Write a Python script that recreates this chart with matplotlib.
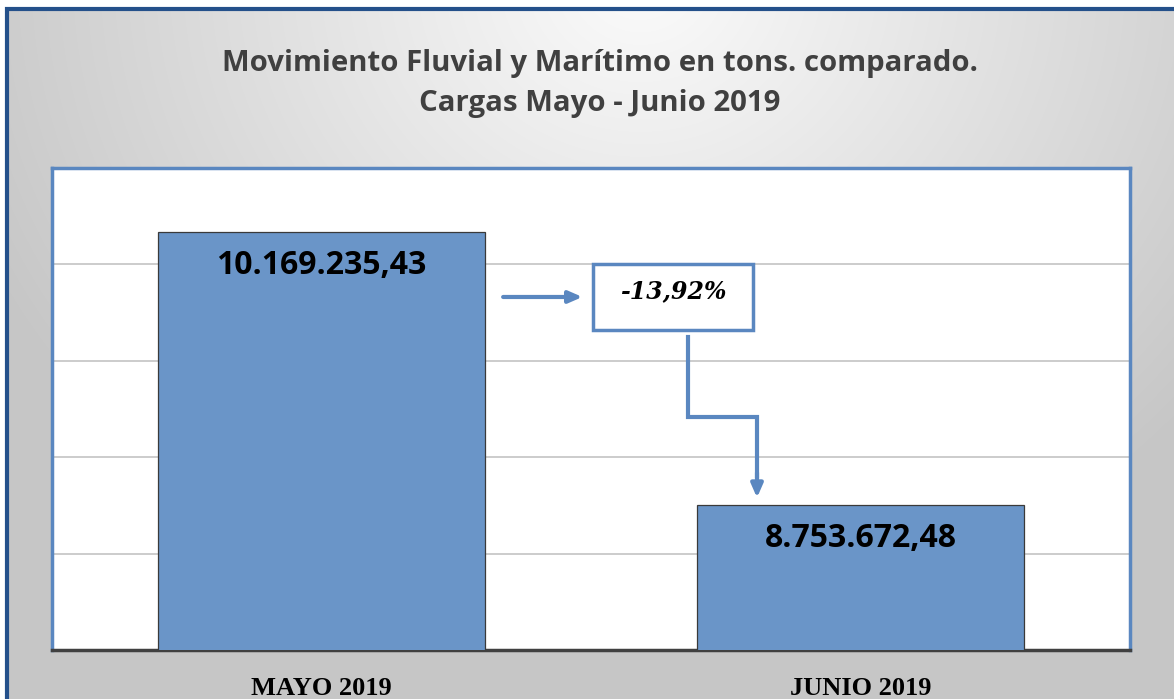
import numpy as np
import matplotlib
matplotlib.use("Agg")
import matplotlib.pyplot as plt
from matplotlib.patches import Rectangle

# data
categories = ["MAYO 2019", "JUNIO 2019"]
values = [10169235.43, 8753672.48]
value_labels = ["10.169.235,43", "8.753.672,48"]
change_label = "-13,92%"
title_lines = ["Movimiento Fluvial y Marítimo en tons. comparado.",
               "Cargas Mayo - Junio 2019"]

W, H = 1174, 699
fig = plt.figure(figsize=(W / 100, H / 100), dpi=100)
fig.patch.set_facecolor("white")

# gray radial background
bg = fig.add_axes([0, 0, 1, 1], zorder=0)
yy, xx = np.mgrid[0:H, 0:W]
d = np.sqrt(((xx - 640) / 720.0) ** 2 + ((yy + 20) / 650.0) ** 2)
d = np.clip(d, 0, 1)
shade = 0.985 - 0.205 * d
img = np.dstack([shade, shade, shade])
img[:8, :, :] = 1.0
img[:, :5, :] = 1.0
bg.imshow(img, extent=[0, W, H, 0], aspect="auto", interpolation="bilinear")
bg.set_xlim(0, W)
bg.set_ylim(H, 0)
bg.axis("off")
bg.plot([6.5, 6.5, W + 5], [H + 5, 8.5, 8.5], color="#24508a", lw=3,
        solid_joinstyle="miter")

# titles
fig.text(600 / W, 1 - 64 / H, title_lines[0], ha="center", va="center",
         fontsize=21.2, fontweight="bold", color="#404040", family="Open Sans")
fig.text(600 / W, 1 - 104 / H, title_lines[1], ha="center", va="center",
         fontsize=21.2, fontweight="bold", color="#404040", family="Open Sans")

# main axes
ax = fig.add_axes([52 / W, 1 - 650 / H, 1078 / W, 482 / H], zorder=2)
ax.set_facecolor("white")
x = np.arange(len(categories))
bars = ax.bar(x, values, width=0.605, color="#6a95c8", edgecolor="#3a3a3a",
              linewidth=0.9, zorder=3)
ax.set_xlim(-0.5, 1.5)
ax.set_ylim(8000000, 10500000)
ax.set_yticks([8500000, 9000000, 9500000, 10000000])
ax.grid(axis="y", color="#c4c4c4", lw=1.2, zorder=1)
ax.tick_params(left=False, labelleft=False, bottom=False, labelbottom=False)
for side in ["left", "right", "top"]:
    ax.spines[side].set_color("#5a87c0")
    ax.spines[side].set_linewidth(2.5)
ax.spines["bottom"].set_color("#404040")
ax.spines["bottom"].set_linewidth(2.5)

# value labels inside bars
for xi, v, lab in zip(x, values, value_labels):
    ax.text(xi, v - 175000, lab, ha="center", va="center", fontsize=23,
            fontweight="bold", color="black", family="Open Sans", zorder=5)

# category labels below the plot
for xi, cat in zip(x, categories):
    ax.text(xi, -0.08, cat, transform=ax.get_xaxis_transform(), ha="center",
            va="center", fontsize=19, fontweight="bold", color="black",
            family="Liberation Serif", clip_on=False)

# change box and arrows
box_x0, box_x1 = 0.504, 0.801
box_y0, box_y1 = 9660000, 10002000
ax.add_patch(Rectangle((box_x0, box_y0), box_x1 - box_x0, box_y1 - box_y0,
                       facecolor="white", edgecolor="#5a87c0", lw=2.5,
                       zorder=6))
ax.text((box_x0 + box_x1) / 2, 9862000, change_label, ha="center",
        va="center", fontsize=17, fontweight="bold", style="italic",
        family="DejaVu Serif", color="black", zorder=7)

acol = "#5a87c0"
ax.annotate("", xy=(0.484, 9831000), xytext=(0.337, 9831000),
            arrowprops=dict(arrowstyle="-|>,head_length=0.8,head_width=0.35",
                            color=acol, lw=3, shrinkA=0, shrinkB=0),
            zorder=6)
ax.plot([0.680, 0.680, 0.808, 0.808], [9624000, 9209000, 9209000, 8900000],
        color=acol, lw=3, zorder=6, solid_joinstyle="miter")
ax.annotate("", xy=(0.808, 8790000), xytext=(0.808, 8920000),
            arrowprops=dict(arrowstyle="-|>,head_length=0.8,head_width=0.35",
                            color=acol, lw=3, shrinkA=0, shrinkB=0),
            zorder=6)

fig.savefig("out.png", dpi=100)
